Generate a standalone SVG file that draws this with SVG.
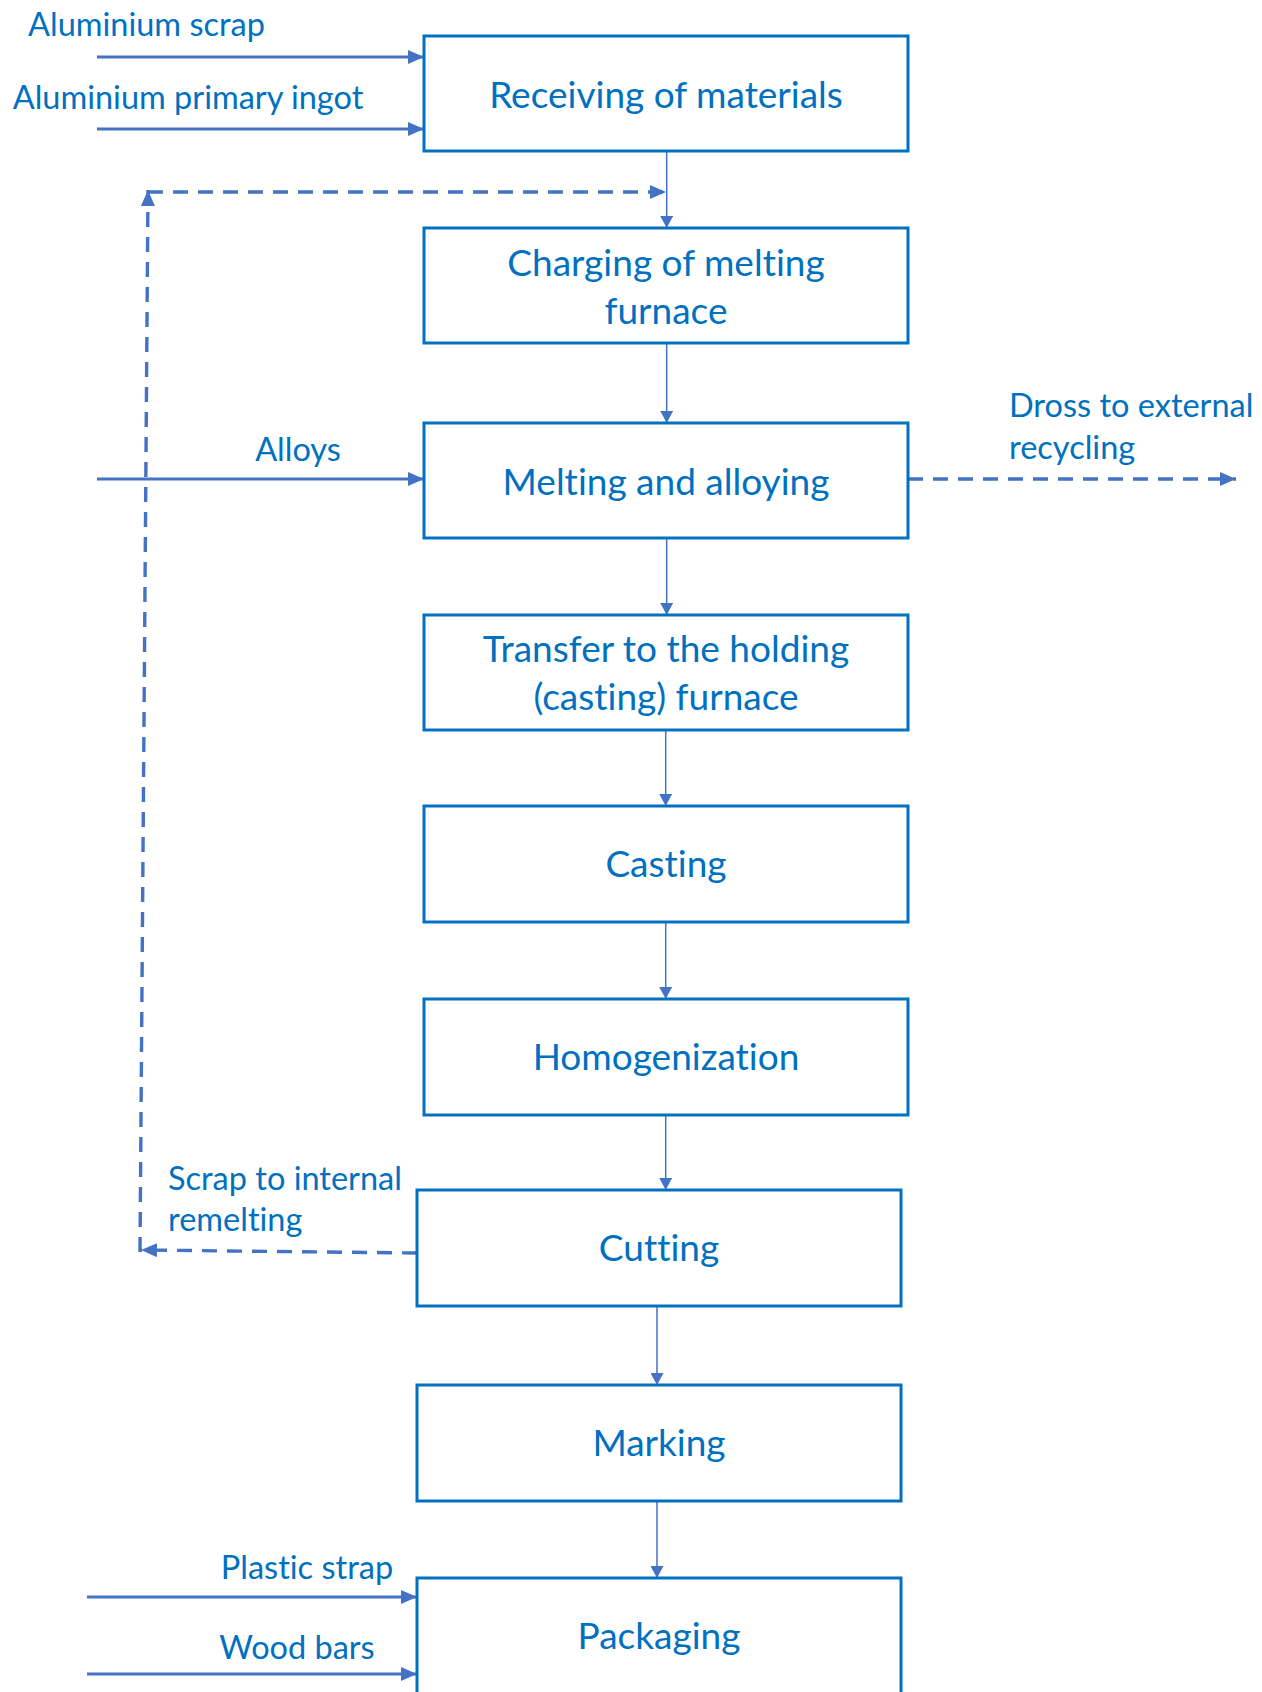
<svg xmlns="http://www.w3.org/2000/svg" width="1262" height="1692" viewBox="0 0 1262 1692">
<defs>
<style>
text{font-variant-ligatures:none;font-feature-settings:"liga" 0,"clig" 0}
.box{fill:#fff;stroke:#0070C0;stroke-width:3}
.bt{font-family:Lato,"Liberation Sans",sans-serif;font-size:37px;fill:#0070C0;text-anchor:middle}
.lb{font-family:Lato,"Liberation Sans",sans-serif;font-size:32.5px;fill:#0070C0}
.thin{fill:none;stroke:#4472C4;stroke-width:1.5}
.thick{fill:none;stroke:#4472C4;stroke-width:3.2}
.dash{fill:none;stroke:#4472C4;stroke-width:3.4;stroke-dasharray:15 10}
</style>
<marker id="ah" markerUnits="userSpaceOnUse" markerWidth="16" markerHeight="14" refX="16" refY="7" orient="auto" viewBox="0 0 16 14">
<path d="M0,0 L16,7 L0,14 z" fill="#4472C4"/>
</marker>
<marker id="ahs" markerUnits="userSpaceOnUse" markerWidth="12" markerHeight="13" refX="12" refY="6.5" orient="auto" viewBox="0 0 12 13">
<path d="M0,0 L12,6.5 L0,13 z" fill="#4472C4"/>
</marker>
</defs>
<rect width="1262" height="1692" fill="#fff"/>

<g id="connectors">
<path class="thin" d="M666.7,151 L666.7,228" marker-end="url(#ahs)"/>
<path class="thin" d="M666.7,343 L666.7,423" marker-end="url(#ahs)"/>
<path class="thin" d="M666.7,538 L666.7,615" marker-end="url(#ahs)"/>
<path class="thin" d="M665.7,730 L665.7,806" marker-end="url(#ahs)"/>
<path class="thin" d="M665.7,922 L665.7,999" marker-end="url(#ahs)"/>
<path class="thin" d="M665.7,1115 L665.7,1190" marker-end="url(#ahs)"/>
<path class="thin" d="M657,1306 L657,1385" marker-end="url(#ahs)"/>
<path class="thin" d="M657,1501 L657,1578" marker-end="url(#ahs)"/>
<path class="thick" d="M97,57 L424,57" marker-end="url(#ah)"/>
<path class="thick" d="M97,129 L424,129" marker-end="url(#ah)"/>
<path class="thick" d="M97,479 L424,479" marker-end="url(#ah)"/>
<path class="thick" d="M87,1597 L417,1597" marker-end="url(#ah)"/>
<path class="thick" d="M87,1674 L417,1674" marker-end="url(#ah)"/>
<path class="dash" d="M908,479 L1236,479" marker-end="url(#ah)"/>
<path class="dash" d="M417,1253 L141,1250" marker-end="url(#ah)"/>
<path class="dash" d="M140,1252 L148,190" marker-end="url(#ah)"/>
<path class="dash" d="M148,192 L666,192" marker-end="url(#ah)"/>
</g>

<g id="labels">
<text class="lb" x="146.5" y="36" text-anchor="middle">Aluminium scrap</text>
<text class="lb" x="188" y="109" text-anchor="middle">Aluminium primary ingot</text>
<text class="lb" x="298" y="461" text-anchor="middle">Alloys</text>
<text class="lb" x="1009" y="417">Dross to external</text>
<text class="lb" x="1009" y="459">recycling</text>
<text class="lb" x="168" y="1190">Scrap to internal</text>
<text class="lb" x="168" y="1231">remelting</text>
<text class="lb" x="307" y="1579" text-anchor="middle">Plastic strap</text>
<text class="lb" x="297" y="1659" text-anchor="middle">Wood bars</text>
</g>

<g id="receiving">
<rect class="box" x="424" y="36" width="484" height="115"/>
<text class="bt" x="666" y="108">Receiving of materials</text>
</g>
<g id="charging">
<rect class="box" x="424" y="228" width="484" height="115"/>
<text class="bt" x="666" y="275.5">Charging of melting</text>
<text class="bt" x="666" y="323.5">furnace</text>
</g>
<g id="melting">
<rect class="box" x="424" y="423" width="484" height="115"/>
<text class="bt" x="666" y="495">Melting and alloying</text>
</g>
<g id="transfer">
<rect class="box" x="424" y="615" width="484" height="115"/>
<text class="bt" x="666" y="662">Transfer to the holding</text>
<text class="bt" x="666" y="710">(casting) furnace</text>
</g>
<g id="casting">
<rect class="box" x="424" y="806" width="484" height="116"/>
<text class="bt" x="666" y="877">Casting</text>
</g>
<g id="homogenization">
<rect class="box" x="424" y="999" width="484" height="116"/>
<text class="bt" x="666" y="1070">Homogenization</text>
</g>
<g id="cutting">
<rect class="box" x="417" y="1190" width="484" height="116"/>
<text class="bt" x="659" y="1261">Cutting</text>
</g>
<g id="marking">
<rect class="box" x="417" y="1385" width="484" height="116"/>
<text class="bt" x="659" y="1456">Marking</text>
</g>
<g id="packaging">
<rect class="box" x="417" y="1578" width="484" height="130"/>
<text class="bt" x="659" y="1649">Packaging</text>
</g>
</svg>
